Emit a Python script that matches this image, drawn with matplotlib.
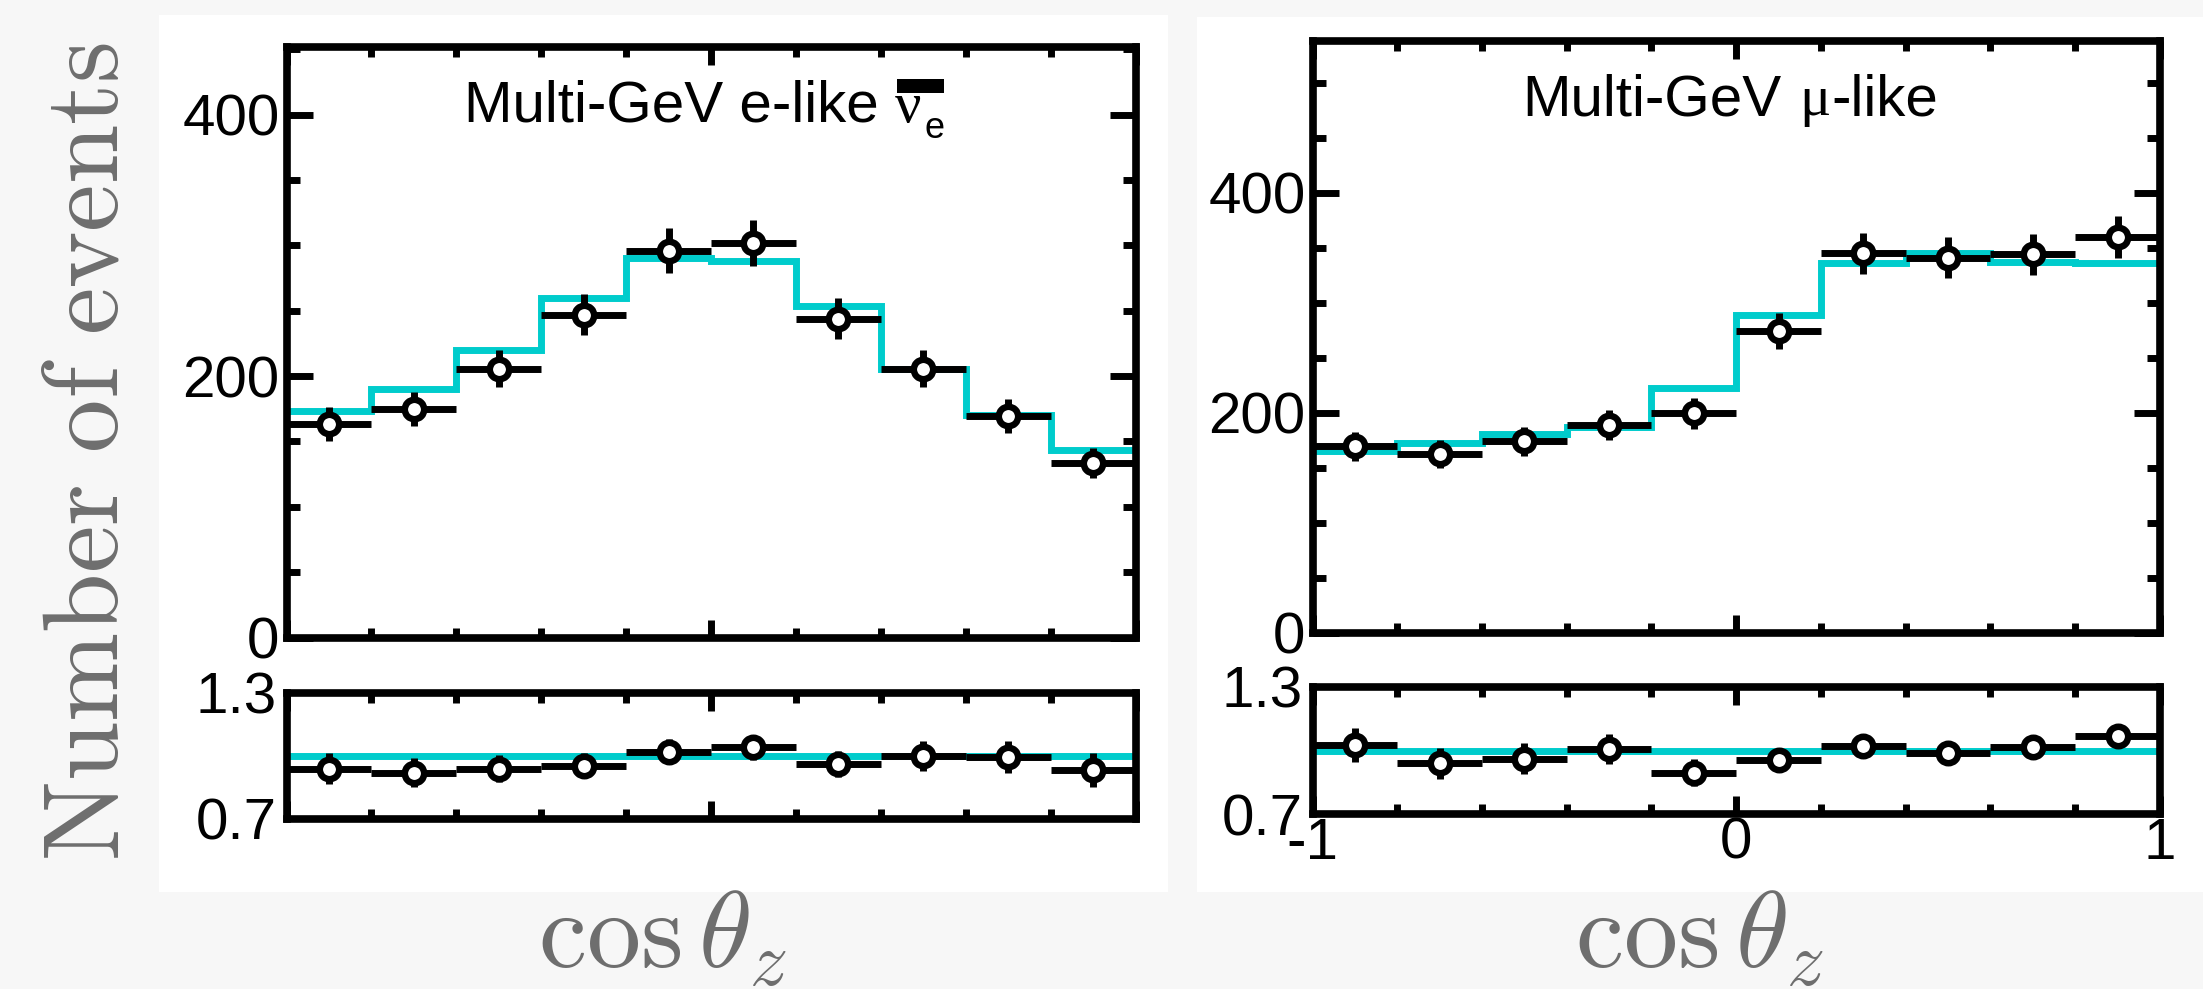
import matplotlib
matplotlib.use("Agg")
import matplotlib.pyplot as plt
import numpy as np
from matplotlib.patches import Rectangle
from matplotlib.ticker import FixedLocator, MultipleLocator

plt.rcParams['font.family'] = ['Liberation Sans', 'DejaVu Sans']

# zenith-angle bins
bin_edges = [-1.0, -0.8, -0.6, -0.4, -0.2, 0.0, 0.2, 0.4, 0.6, 0.8, 1.0]

# Multi-GeV e-like anti-nu_e sample
e_data = [163.5, 175, 205.7, 247, 295.8, 302, 244, 205.7, 169.7, 133.6]
e_err = [12.8, 13.2, 14.3, 15.7, 17.2, 17.4, 15.6, 14.3, 13.0, 11.6]
e_mc = [173.6, 190, 220, 260, 290, 288, 253.6, 205.7, 170.5, 143.7]
e_ratio = [0.94, 0.92, 0.94, 0.953, 1.02, 1.041, 0.961, 1.0, 0.997, 0.932]
e_ratio_err = [0.074, 0.069, 0.065, 0.060, 0.059, 0.060, 0.062, 0.070, 0.076, 0.081]

# Multi-GeV mu-like sample
mu_data = [169.6, 162.7, 174.3, 189, 199.5, 274.5, 345, 341, 344, 359.6]
mu_err = [13.0, 12.8, 13.2, 13.7, 14.1, 16.6, 18.6, 18.5, 18.5, 19.0]
mu_mc = [165.4, 173, 181, 187.4, 222.6, 288.7, 336, 345, 337.5, 336]
mu_ratio = [1.025, 0.94, 0.961, 1.007, 0.895, 0.956, 1.023, 0.988, 1.015, 1.068]
mu_ratio_err = [0.079, 0.074, 0.073, 0.073, 0.063, 0.057, 0.055, 0.054, 0.055, 0.057]

main_yticks = [0, 200, 400]
ratio_yticks = [0.7, 1.3]
ratio_yticklabels = ['0.7', '1.3']
xticklabels = ['-1', '0', '1']

CYAN = '#00cccc'
GRAY = '#6e6e6e'
W, H = 2203, 989

edges = np.array(bin_edges)
centers = 0.5 * (edges[:-1] + edges[1:])
half_w = 0.5 * np.diff(edges)

fig = plt.figure(figsize=(W / 100, H / 100), dpi=100, facecolor='#f7f7f7')

# white backing panels behind each pair of pads
for x0, x1, y0 in [(159, 1168, 15), (1197, 2203, 17)]:
    fig.add_artist(Rectangle((x0 / W, 1 - 892 / H), (x1 - x0) / W, (892 - y0) / H,
                             transform=fig.transFigure, facecolor='white',
                             edgecolor='none', zorder=-5))


def px_axes(x0, y0, x1, y1):
    return fig.add_axes([x0 / W, 1 - y1 / H, (x1 - x0) / W, (y1 - y0) / H])


ax_e = px_axes(286.5, 46.7, 1135.5, 637.5)
ax_er = px_axes(286.5, 693, 1135.5, 819)
ax_mu = px_axes(1312.5, 41, 2160, 633)
ax_mur = px_axes(1312.5, 687, 2160, 814)


def style_x(ax, labels):
    ax.set_xlim(-1, 1)
    for s in ax.spines.values():
        s.set_linewidth(5.5)
    ax.xaxis.set_major_locator(FixedLocator([-1, 0, 1]))
    ax.xaxis.set_minor_locator(MultipleLocator(0.2))
    ax.tick_params(axis='x', which='both', direction='in', top=True, bottom=True,
                   width=5, labelsize=42, pad=2, labelbottom=labels)
    ax.tick_params(axis='x', which='major', length=13)
    ax.tick_params(axis='x', which='minor', length=7)
    if labels:
        ax.set_xticklabels(xticklabels)


def style_main(ax, top):
    style_x(ax, False)
    ax.set_ylim(0, top)
    ax.yaxis.set_major_locator(FixedLocator(main_yticks))
    ax.yaxis.set_minor_locator(MultipleLocator(50))
    ax.tick_params(axis='y', which='both', direction='in', left=True, right=True,
                   width=5, labelsize=42, pad=5)
    ax.tick_params(axis='y', which='major', length=19)
    ax.tick_params(axis='y', which='minor', length=9.5)


def style_ratio(ax, labels):
    style_x(ax, labels)
    ax.set_ylim(0.7, 1.3)
    ax.set_yticks(ratio_yticks)
    ax.set_yticklabels(ratio_yticklabels)
    ax.tick_params(axis='y', which='both', length=0, labelsize=42, pad=7)


def draw_points(ax, y, yerr):
    ax.errorbar(centers, y, xerr=half_w, yerr=yerr, fmt='o', color='black',
                mfc='white', mec='black', mew=4.7, ms=14, elinewidth=5,
                capsize=0, zorder=3, clip_on=False)


for ax, ax_r, data, err, mc, ratio, rerr, top in [
        (ax_e, ax_er, e_data, e_err, e_mc, e_ratio, e_ratio_err, 452),
        (ax_mu, ax_mur, mu_data, mu_err, mu_mc, mu_ratio, mu_ratio_err, 538)]:
    ax.stairs(mc, edges, baseline=None, color=CYAN, lw=5, zorder=1)
    draw_points(ax, data, err)
    style_main(ax, top)
    ax_r.axhline(1.0, color=CYAN, lw=5, zorder=1)
    draw_points(ax_r, ratio, rerr)

style_ratio(ax_er, False)
style_ratio(ax_mur, True)

# sample titles
fs = 42
t_e = ax_e.text(0.209, 0.8726, 'Multi-GeV e-like', transform=ax_e.transAxes,
                fontsize=fs, ha='left', va='baseline')
nu = ax_e.annotate('ν', xy=(1, 0), xycoords=t_e, xytext=(16, 0),
                   textcoords='offset pixels', fontsize=fs,
                   family='Liberation Serif', ha='left', va='bottom')
nu_sub = ax_e.annotate('e', xy=(1, 0), xycoords=nu, xytext=(3, -12),
                       textcoords='offset pixels', fontsize=26,
                       ha='left', va='bottom')

t_mu = ax_mu.text(0.248, 0.875, 'Multi-GeV', transform=ax_mu.transAxes,
                  fontsize=fs, ha='left', va='baseline')
mu = ax_mu.annotate('μ', xy=(1, 0), xycoords=t_mu, xytext=(17, 0),
                    textcoords='offset pixels', fontsize=fs,
                    family='Liberation Serif', ha='left', va='bottom')
ax_mu.annotate('-like', xy=(1, 0), xycoords=mu, xytext=(1, 0),
               textcoords='offset pixels', fontsize=fs, ha='left', va='bottom')

# axis titles
fig.text(90 / W, 1 - 452 / H, r'$\mathrm{Number\ of\ events}$', rotation=90,
         ha='center', va='center', fontsize=77, color=GRAY, math_fontfamily='cm')
for xc in (663, 1700):
    fig.text(xc / W, 1 - 968 / H, r'$\cos\theta_z$', ha='center', va='baseline',
             fontsize=78, color=GRAY, math_fontfamily='cm')

# thick overbar on the anti-neutrino symbol
fig.canvas.draw()
bb_nu = nu.get_window_extent()
bb_sub = nu_sub.get_window_extent()
base = ax_e.transAxes.transform((0, 0.8726))[1]
fs_px = fs * 100 / 72
inv = fig.transFigure.inverted()
(bx0, by0), (bx1, by1) = inv.transform([(bb_nu.x0 + 2, base + 0.49 * fs_px),
                                        (bb_sub.x1, base + 0.73 * fs_px)])
fig.add_artist(Rectangle((bx0, by0), bx1 - bx0, by1 - by0, transform=fig.transFigure,
                         facecolor='black', edgecolor='none', zorder=10))

fig.savefig('out.png', dpi=100, facecolor=fig.get_facecolor())
